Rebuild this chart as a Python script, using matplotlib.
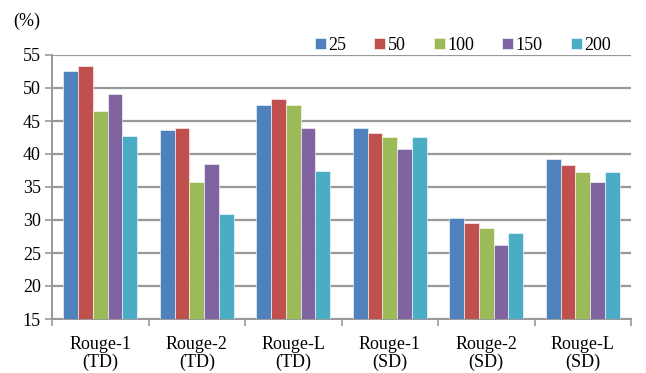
import numpy as np
import matplotlib.pyplot as plt

plt.rcParams['font.family'] = ['Liberation Serif', 'DejaVu Serif']

categories = ['Rouge-1\n(TD)', 'Rouge-2\n(TD)', 'Rouge-L\n(TD)',
              'Rouge-1\n(SD)', 'Rouge-2\n(SD)', 'Rouge-L\n(SD)']
series_names = ['25', '50', '100', '150', '200']
vals_25 = [52.6, 43.6, 47.4, 43.9, 30.3, 39.2]
vals_50 = [53.3, 43.9, 48.3, 43.2, 29.5, 38.4]
vals_100 = [46.5, 35.8, 47.4, 42.6, 28.8, 37.2]
vals_150 = [49.1, 38.5, 43.9, 40.7, 26.2, 35.7]
vals_200 = [42.7, 30.9, 37.5, 42.5, 28.0, 37.3]
colors = ['#4F81BD', '#C0504D', '#9BBB59', '#8064A2', '#4BACC6']

series = [vals_25, vals_50, vals_100, vals_150, vals_200]
fs = 13

fig = plt.figure(figsize=(6.46, 3.73), dpi=100)
ax = fig.add_axes([52 / 646, 1 - 319 / 373, 579 / 646, 264 / 373])

x = np.arange(len(categories))
bw = 0.153
for i, (vals, name, c) in enumerate(zip(series, series_names, colors)):
    ax.bar(x + (i - 2) * bw, np.array(vals) - 15, bottom=15, width=bw,
           color=c, label=name, edgecolor='white', linewidth=0.4, zorder=3)

ax.set_xlim(-0.5, len(categories) - 0.5)
ax.set_ylim(15, 55)
ax.set_yticks(range(15, 56, 5))
ax.yaxis.grid(True, color='#999999', linewidth=1.6, zorder=0)
ax.tick_params(axis='y', length=5, width=1.2, color='#999999', labelsize=fs, pad=3)

ax.set_xticks(x)
ax.set_xticklabels(categories, linespacing=1.05)
ax.set_xticks(np.arange(-0.5, len(categories), 1), minor=True)
ax.tick_params(axis='x', which='major', length=0, labelsize=fs, pad=12)
ax.tick_params(axis='x', which='minor', length=5, width=1.2, color='#999999')

for side in ['top', 'right']:
    ax.spines[side].set_visible(False)
for side in ['left', 'bottom']:
    ax.spines[side].set_color('#999999')
    ax.spines[side].set_linewidth(1.4)

fig.text(13 / 646, 1 - 21 / 373, '(%)', fontsize=fs, va='center', ha='left')

ax.legend(ncol=5, frameon=False, fontsize=fs, loc='lower right',
          bbox_to_anchor=((611 - 52) / 579, 1.005), handlelength=0.6,
          handleheight=0.6, handletextpad=0.15, columnspacing=1.55,
          borderaxespad=0, borderpad=0)

fig.savefig('out.png', dpi=100)
